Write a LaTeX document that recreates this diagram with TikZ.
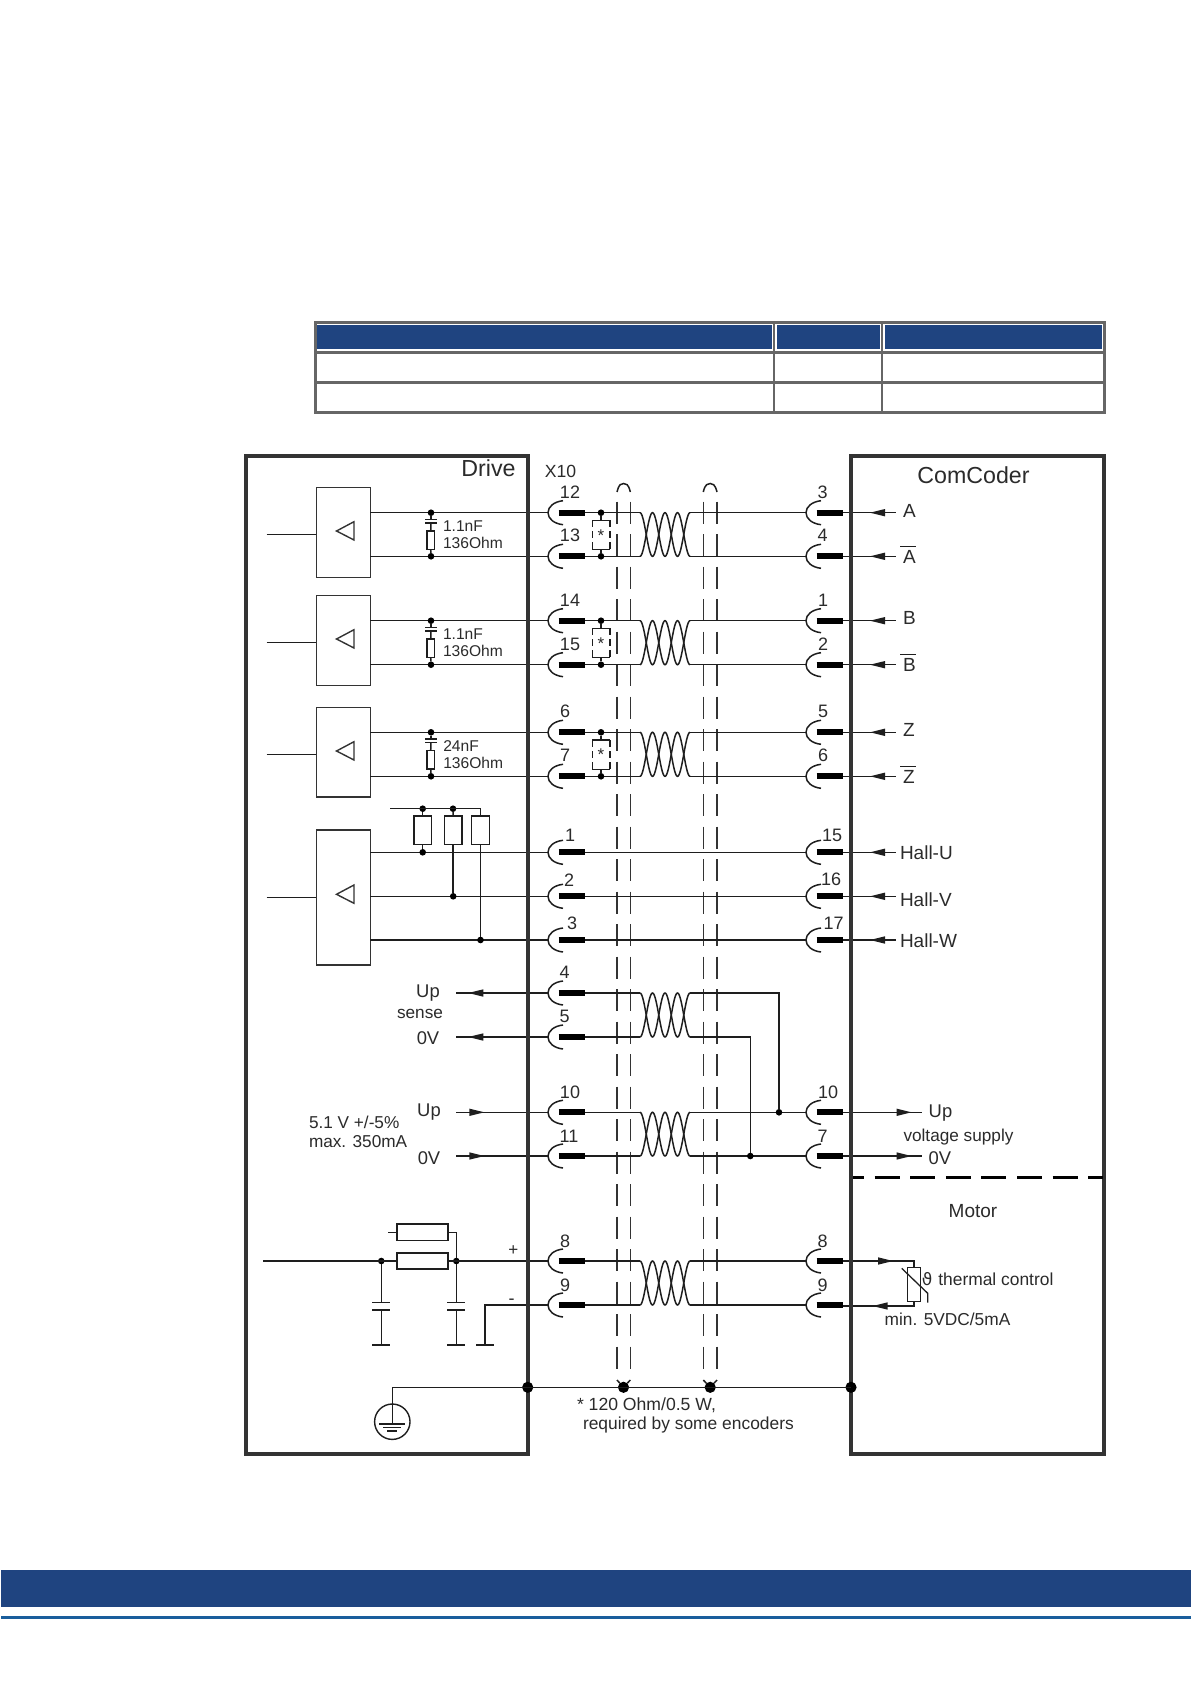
\documentclass[tikz,border=0pt]{standalone}
\usepackage{fontspec}
\setmainfont{Liberation Sans}
\newfontfamily\symfont{DejaVu Sans}
\definecolor{navy}{HTML}{1F4480}
\definecolor{footline}{HTML}{1A5E9C}
\definecolor{tablegrey}{HTML}{666666}
\definecolor{frameink}{HTML}{333333}
\definecolor{ink}{HTML}{1E1E1E}
\definecolor{txt}{HTML}{2B2B2B}
\tikzset{
  wire/.style={draw=ink,line width=0.75pt},
  thin wire/.style={draw=ink,line width=0.65pt},
  barpin/.style={draw=black,line width=3pt},
  shield/.style={draw=frameink,line width=0.75pt,dash pattern=on 11pt off 5.25pt},
  frame/.style={draw=frameink,line width=2pt,inner sep=0pt,outer sep=0pt},
  drv/.style={draw=frameink,line width=0.7pt,inner sep=0pt,outer sep=0pt,minimum width=27pt},
  rbox/.style={draw=ink,line width=0.7pt,inner sep=0pt,outer sep=0pt},
  jdot/.style={circle,fill=black,inner sep=0pt,outer sep=0pt,minimum size=3.3pt},
  bigdot/.style={circle,fill=black,inner sep=0pt,outer sep=0pt,minimum size=5.6pt},
}
\newcommand{\lab}[6]{\node[inner sep=0pt,outer sep=0pt,text=txt,anchor=#2,font=\fontsize{#5}{#5}\selectfont,text height={#5*0.716pt},text depth=0pt] (#1) at (#3,#4) {#6};}
\newcommand{\cshape}[2]{\draw[wire] (#1+15,#2-12) .. controls (#1+6,#2-11) and (#1,#2-6) .. (#1,#2) .. controls (#1,#2+6) and (#1+6,#2+11) .. (#1+15,#2+12);}
% pin: number, row, label x, label lift
\newcommand{\pinL}[4]{%
  \coordinate (L#1-w) at (548,#2); \coordinate (L#1-e) at (585,#2);
  \cshape{548}{#2}
  \draw[barpin] (558.7,#2) -- (L#1-e);
  \lab{Ln#1}{center}{#3}{#2-#4}{9}{#1}}
\newcommand{\pinR}[4]{%
  \coordinate (R#1-w) at (806,#2); \coordinate (R#1-e) at (843,#2);
  \cshape{806}{#2}
  \draw[barpin] (816.7,#2) -- (R#1-e);
  \lab{Rn#1}{center}{#3}{#2-#4}{9}{#1}}
\newcommand{\twist}[3]{%
  \coordinate (#1-ta) at (640,#2); \coordinate (#1-tb) at (690,#2);
  \coordinate (#1-ba) at (640,#3); \coordinate (#1-bb) at (690,#3);
  \draw[wire] plot[domain=0:720,samples=73] ({640+\x/14.4},{#2/2+#3/2-(#3-#2)/2*cos(\x)});
  \draw[wire] plot[domain=0:720,samples=73] ({640+\x/14.4},{#2/2+#3/2+(#3-#2)/2*cos(\x)});}
\newcommand{\tri}[1]{\draw[draw=frameink,line width=0.7pt,line join=miter] (336.5,#1) -- (354,#1-9.3) -- (354,#1+9) -- cycle;}
\newcommand{\headL}[2]{\fill[ink] (#1,#2) -- (#1+15,#2-3.7) -- (#1+15,#2+3.7) -- cycle;}
\newcommand{\headR}[2]{\fill[ink] (#1,#2) -- (#1-15,#2-3.7) -- (#1-15,#2+3.7) -- cycle;}
% filter: name, row1, row2
\newcommand{\rc}[3]{%
  \node[jdot] (#1-t) at (431,#2) {};
  \node[jdot] (#1-b) at (431,#3) {};
  \node[rbox,minimum width=3.7pt,minimum height=9.2pt] (#1-r) at (430.7,#2+27.5) {};
  \coordinate (#1-c1) at (431,#2+6.7);
  \coordinate (#1-c2) at (431,#2+10.4);
  \draw[wire] (#1-t) -- (#1-c1);
  \draw[wire] (#1-c2) -- (#1-r.north);
  \draw[wire] (#1-r.south) -- (#1-b);
  \draw[wire] (425,#2+6.7) -- (437,#2+6.7);
  \draw[wire] (425,#2+10.4) -- (437,#2+10.4);}
% optional terminator: name, row1, row2
\newcommand{\term}[3]{%
  \node[jdot] (#1-t) at (601,#2) {};
  \node[jdot] (#1-b) at (601,#3) {};
  \draw[wire] (#1-t) -- (601,#2+7.7);
  \draw[wire] (#1-b) -- (601,#3-7);
  \draw[wire] (592.3,#2+7.7) -- (610,#2+7.7);
  \draw[wire] (592.3,#3-7) -- (610,#3-7);
  \draw[wire,dash pattern=on 3.5pt off 2pt] (592.3,#2+7.7) -- (592.3,#3-7);
  \draw[wire,dash pattern=on 3.5pt off 2pt] (610,#2+7.7) -- (610,#3-7);
  \lab{#1-s}{center}{601}{#2+22.5}{8.5}{*}}
\begin{document}
\begin{tikzpicture}[x=0.5pt,y=-0.5pt]
\useasboundingbox (0,0) rectangle (1191,1684);
\fill[white] (0,0) rectangle (1191,1684);

% ---- table
\fill[navy] (317,324.7) rectangle (772.3,349.3);
\fill[navy] (776.5,324.7) rectangle (879.5,349.3);
\fill[navy] (884.7,324.7) rectangle (1101.8,349.3);
\draw[draw=tablegrey,line width=1.5pt] (315.5,322.5) rectangle (1104.2,412.5);
\draw[draw=tablegrey,line width=1.6pt] (315.5,352.3) -- (1104.2,352.3);
\draw[draw=tablegrey,line width=1.5pt] (315.5,382.3) -- (1104.2,382.3);
\draw[draw=tablegrey,line width=1pt] (773.8,322.5) -- (773.8,412.5);
\draw[draw=tablegrey,line width=1pt] (881.8,322.5) -- (881.8,412.5);

% ---- footer
\fill[navy] (1.3,1570) rectangle (1191,1606.7);
\fill[footline] (1.3,1616) rectangle (1191,1619.3);

% ---- shields
\coordinate (S1t) at (617,501.7); \coordinate (S1b) at (617,1371.7);
\coordinate (S2t) at (630.3,501.7); \coordinate (S2b) at (630.3,1371.7);
\coordinate (S3t) at (703.3,501.7); \coordinate (S3b) at (703.3,1371.7);
\coordinate (S4t) at (717,501.7); \coordinate (S4b) at (717,1371.7);
\draw[shield] (S1t) -- (S1b);
\draw[shield] (S2t) -- (S2b);
\draw[shield] (S3t) -- (S3b);
\draw[shield] (S4t) -- (S4b);
\draw[wire] (617,492) .. controls (619,484) and (621,483.5) .. (623.6,483.5) .. controls (626,483.5) and (628.5,484) .. (630.3,492);
\draw[wire] (703.3,492) .. controls (705,484) and (708,483.5) .. (710.2,483.5) .. controls (712.5,483.5) and (715,484) .. (717,492);

% ---- driver boxes
\node[drv,minimum height=45pt] (d1) at (343.3,532.7) {};
\node[drv,minimum height=45pt] (d2) at (343.3,640.7) {};
\node[drv,minimum height=44.7pt] (d3) at (343.3,752.4) {};
\node[drv,minimum height=67.5pt] (d4) at (343.3,897.5) {};
\tri{531} \tri{639} \tri{751} \tri{894.3}
\coordinate (in1) at (266.7,534.3);
\coordinate (in2) at (266.7,642.3);
\coordinate (in3) at (266.7,754.3);
\coordinate (in4) at (266.7,897.7);
\draw[wire] (in1) -- (d1.west |- in1);
\draw[wire] (in2) -- (d2.west |- in2);
\draw[wire] (in3) -- (d3.west |- in3);
\draw[wire] (in4) -- (d4.west |- in4);

% ---- pins left
\pinL{12}{512.7}{570}{21} \pinL{13}{556.3}{570}{21}
\pinL{14}{620.7}{570}{21} \pinL{15}{664.7}{570}{21}
\pinL{6}{732.3}{565}{21} \pinL{7}{776.3}{565}{21}
\pinL{1}{852.3}{570}{17} \pinL{2}{896.3}{569}{16.5} \pinL{3}{940}{572}{16.5}
\pinL{4}{993}{564.5}{20.5} \pinL{5}{1037}{564.5}{20.5}
\pinL{10}{1112.3}{570}{20} \pinL{11}{1156}{569}{20}
\pinL{8}{1261}{565}{20} \pinL{9}{1305}{565}{20}
% ---- pins right
\pinR{3}{512.7}{822.7}{21} \pinR{4}{556.3}{822.7}{21}
\pinR{1}{620.7}{823}{21} \pinR{2}{664.7}{823}{21}
\pinR{5}{732.3}{823}{21} \pinR{6}{776.3}{823}{21}
\pinR{15}{852.3}{832}{17} \pinR{16}{896.3}{831}{17} \pinR{17}{940}{833.5}{17}
\pinR{10}{1112.3}{828}{20} \pinR{7}{1156}{822.7}{20}
\pinR{8}{1261}{822.7}{20} \pinR{9}{1305}{822.7}{20}

% ---- twisted pairs
\twist{Ta}{512.7}{556.3}
\twist{Tb}{620.7}{664.7}
\twist{Tc}{732.3}{776.3}
\twist{Td}{993}{1037}
\twist{Te}{1112.3}{1156}
\twist{Tf}{1261}{1305}

% ---- wires drive to connector
\draw[wire] (d1.east |- L12-w) -- (L12-w);
\draw[wire] (d1.east |- L13-w) -- (L13-w);
\draw[wire] (d2.east |- L14-w) -- (L14-w);
\draw[wire] (d2.east |- L15-w) -- (L15-w);
\draw[wire] (d3.east |- L6-w) -- (L6-w);
\draw[wire] (d3.east |- L7-w) -- (L7-w);
\draw[wire] (d4.east |- L1-w) -- (L1-w);
\draw[wire] (d4.east |- L2-w) -- (L2-w);
\draw[wire] (d4.east |- L3-w) -- (L3-w);

% ---- wires through the cable
\draw[wire] (L12-e) -- (Ta-ta); \draw[wire] (Ta-tb) -- (R3-w);
\draw[wire] (L13-e) -- (Ta-ba); \draw[wire] (Ta-bb) -- (R4-w);
\draw[wire] (L14-e) -- (Tb-ta); \draw[wire] (Tb-tb) -- (R1-w);
\draw[wire] (L15-e) -- (Tb-ba); \draw[wire] (Tb-bb) -- (R2-w);
\draw[wire] (L6-e) -- (Tc-ta); \draw[wire] (Tc-tb) -- (R5-w);
\draw[wire] (L7-e) -- (Tc-ba); \draw[wire] (Tc-bb) -- (R6-w);
\draw[wire] (L1-e) -- (R15-w);
\draw[wire] (L2-e) -- (R16-w);
\draw[wire] (L3-e) -- (R17-w);
\draw[wire] (L4-e) -- (Td-ta);
\draw[wire] (L5-e) -- (Td-ba);
\draw[wire] (L10-e) -- (Te-ta); \draw[wire] (Te-tb) -- (R10-w);
\draw[wire] (L11-e) -- (Te-ba); \draw[wire] (Te-bb) -- (R7-w);
\draw[wire] (L8-e) -- (Tf-ta); \draw[wire] (Tf-tb) -- (R8-w);
\draw[wire] (L9-e) -- (Tf-ba); \draw[wire] (Tf-bb) -- (R9-w);

% ---- sense returns
\node[jdot] (jUp) at (779,1112.3) {};
\node[jdot] (j0V) at (750.3,1156) {};
\draw[wire] (Td-tb) -| (jUp);
\draw[wire] (Td-bb) -| (j0V);

% ---- filters and terminators
\rc{f1}{512.7}{556.3} \lab{c1}{west}{443}{526}{7.8}{1.1nF} \lab{r1}{west}{443}{543.3}{7.8}{136Ohm}
\rc{f2}{620.7}{664.7} \lab{c2}{west}{443}{634}{7.8}{1.1nF} \lab{r2}{west}{443}{651.3}{7.8}{136Ohm}
\rc{f3}{732.3}{776.3} \lab{c3}{west}{443.3}{745.7}{7.8}{24nF} \lab{r3}{west}{443.3}{762.7}{7.8}{136Ohm}
\term{t1}{512.7}{556.3}
\term{t2}{620.7}{664.7}
\term{t3}{732.3}{776.3}

% ---- hall pull-ups
\coordinate (hs) at (390,808.7);
\node[jdot] (h1t) at (422.7,808.7) {};
\node[jdot] (h2t) at (453,808.7) {};
\coordinate (h3t) at (480.5,808.7);
\node[rbox,minimum width=8.7pt,minimum height=14.3pt] (h1) at (422.7,830.4) {};
\node[rbox,minimum width=8.8pt,minimum height=14.3pt] (h2) at (453.2,830.4) {};
\node[rbox,minimum width=8.8pt,minimum height=14.3pt] (h3) at (480.5,830.4) {};
\node[jdot] (h1b) at (422.7,852.3) {};
\node[jdot] (h2b) at (453.2,896.3) {};
\node[jdot] (h3b) at (480.5,940) {};
\draw[wire] (hs) -- (h3t) -- (h3.north);
\draw[wire] (h1t) -- (h1.north);
\draw[wire] (h2t) -- (h2.north);
\draw[wire] (h1.south) -- (h1b);
\draw[wire] (h2.south) -- (h2b);
\draw[wire] (h3.south) -- (h3b);

% ---- sense / supply on the drive side
\coordinate (upS) at (456,993);
\coordinate (ovS) at (456,1037);
\coordinate (upI) at (456,1112.3);
\coordinate (ovI) at (456,1156);
\draw[wire] (upS) -- (L4-w); \headL{468.3}{993}
\draw[wire] (ovS) -- (L5-w); \headL{468.3}{1037}
\draw[wire] (upI) -- (L10-w); \headR{484.3}{1112.3}
\draw[wire] (ovI) -- (L11-w); \headR{484.3}{1156}
\lab{tUpS}{center}{428}{991}{9.2}{Up}
\lab{tSense}{center}{420}{1012}{8.6}{sense}
\lab{tOvS}{center}{428}{1038}{9.2}{0V}
\lab{tUpI}{center}{429}{1109.5}{9.2}{Up}
\lab{tOvI}{center}{429}{1157.7}{9.2}{0V}
\lab{tV}{west}{309}{1122.3}{8.6}{5.1 V +/-5\%}
\lab{tMax}{west}{309}{1141.7}{8.6}{max. 350mA}

% ---- encoder signals
\coordinate (eA) at (896,512.7);
\coordinate (eAn) at (896,556.3);
\coordinate (eB) at (896,620.7);
\coordinate (eBn) at (896,664.7);
\coordinate (eZ) at (896,732.3);
\coordinate (eZn) at (896,776.3);
\coordinate (eU) at (896,852.3);
\coordinate (eV) at (896,896.3);
\coordinate (eW) at (896,940);
\draw[wire] (R3-e) -- (eA); \headL{870}{512.7}
\draw[wire] (R4-e) -- (eAn); \headL{870}{556.3}
\draw[wire] (R1-e) -- (eB); \headL{870}{620.7}
\draw[wire] (R2-e) -- (eBn); \headL{870}{664.7}
\draw[wire] (R5-e) -- (eZ); \headL{870}{732.3}
\draw[wire] (R6-e) -- (eZn); \headL{870}{776.3}
\draw[wire] (R15-e) -- (eU); \headL{870}{852.3}
\draw[wire] (R16-e) -- (eV); \headL{870}{896.3}
\draw[wire] (R17-e) -- (eW); \headL{870}{940}
\lab{tA}{center}{909.5}{510.7}{9.5}{A}
\lab{tAn}{center}{909.5}{557}{9.5}{A}
\lab{tB}{center}{909.5}{618}{9.5}{B}
\lab{tBn}{center}{909.5}{665}{9.5}{B}
\lab{tZ}{center}{909}{730}{9.5}{Z}
\lab{tZn}{center}{909}{777}{9.5}{Z}
\draw[wire] (900,546.7) -- (916,546.7);
\draw[wire] (900,654.5) -- (916,654.5);
\draw[wire] (900,766.5) -- (916,766.5);
\lab{tHU}{west}{900}{853}{9.5}{Hall-U}
\lab{tHV}{west}{900}{900}{9.5}{Hall-V}
\lab{tHW}{west}{900}{941}{9.5}{Hall-W}

% ---- supply on the motor side
\coordinate (oUp) at (921.7,1112.3);
\coordinate (oOv) at (921.7,1156);
\draw[wire] (R10-e) -- (oUp); \headR{911.5}{1112.3}
\draw[wire] (R7-e) -- (oOv); \headR{911.5}{1156}
\lab{tUpO}{west}{928.7}{1110.5}{9.2}{Up}
\lab{tOvO}{west}{928.7}{1157.5}{9.2}{0V}
\lab{tVs}{west}{903.5}{1135.5}{8.6}{voltage supply}

% ---- thermal contact
\node[rbox,minimum width=6.3pt,minimum height=17pt] (ptc) at (914,1284.7) {};
\coordinate (pIn) at (843,1306);
\draw[wire] (R8-e) -| (ptc.north); \headR{893}{1261}
\draw[wire] (pIn) -| (ptc.south); \headL{872.7}{1306}
\draw[thin wire] (901.7,1268.3) -- (927.7,1293.3) -- (927.7,1302.7);
\lab{tTheta}{center}{927}{1279}{8.5}{\symfont ϑ}
\lab{tTh}{west}{938.3}{1279}{8.7}{thermal control}
\lab{tMin}{west}{884.7}{1319}{8.65}{min. 5VDC/5mA}
\lab{tMotor}{center}{973}{1210.7}{9.5}{Motor}

% ---- supply network in the drive
\node[rbox,line width=0.85pt,minimum width=25.8pt,minimum height=8.3pt] (rr1) at (422.5,1232.3) {};
\node[rbox,line width=0.85pt,minimum width=25.8pt,minimum height=8pt] (rr2) at (422.5,1261.3) {};
\coordinate (bIn) at (263.3,1261);
\coordinate (bStub) at (388,1232.3);
\node[jdot] (b1) at (381.3,1261) {};
\node[jdot] (b2) at (456.3,1261) {};
\draw[wire] (bIn) -- (rr2.west |- bIn);
\draw[wire] (rr2.east |- b2) -- (L8-w);
\draw[wire] (bStub) -- (rr1.west);
\draw[wire] (rr1.east) -| (b2);
\coordinate (k1t) at (381.3,1302.7); \coordinate (k1m) at (381.3,1310); \coordinate (k1b) at (381.3,1345);
\coordinate (k2t) at (456.3,1302.7); \coordinate (k2m) at (456.3,1310); \coordinate (k2b) at (456.3,1345);
\coordinate (k3b) at (485,1345);
\draw[wire] (b1) -- (k1t); \draw[wire] (k1m) -- (k1b);
\draw[wire] (b2) -- (k2t); \draw[wire] (k2m) -- (k2b);
\draw[wire] (L9-w) -| (k3b);
\draw[wire] (372.3,1302.7) -- (390.3,1302.7);
\draw[wire] (372.3,1310) -- (390.3,1310);
\draw[wire] (372.3,1345) -- (390.3,1345);
\draw[wire] (447.3,1302.7) -- (465.3,1302.7);
\draw[wire] (447.3,1310) -- (465.3,1310);
\draw[wire] (447.3,1345) -- (465.3,1345);
\draw[wire] (476,1345) -- (494,1345);
\lab{tPlus}{center}{513.3}{1249.3}{8.5}{+}
\lab{tMinus}{center}{511.7}{1297.7}{9}{-}

% ---- outer frames
\node[frame,minimum width=140.85pt,minimum height=499pt] (drive) at (386.85,954.5) {};
\node[frame,minimum width=126.5pt,minimum height=499pt] (comcoder) at (977.5,954.5) {};
\lab{tDrive}{center}{488.5}{468}{11.6}{Drive}
\lab{tCom}{center}{973.5}{475}{11.6}{ComCoder}
\lab{tX10}{center}{560.5}{471}{8.8}{X10}
\coordinate (mL) at (853,1177.3);
\coordinate (mR) at (1103,1177.3);
\draw[draw=black,line width=1.5pt,dash pattern=on 12.5pt off 5.3pt,dash phase=7pt] (mL) -- (mR);

% ---- earth
\coordinate (gC) at (392.3,1387.3);
\coordinate (gE) at (851,1387.3);
\node[bigdot] (gD) at (527.7,1387.3) {};
\node[bigdot] (gK) at (851,1387.3) {};
\node[bigdot] (gSa) at (623.5,1387.3) {};
\node[bigdot] (gSb) at (710.2,1387.3) {};
\draw[wire] (S1b |- 0,1380) -- (gSa);
\draw[wire] (S2b |- 0,1380) -- (gSa);
\draw[wire] (S3b |- 0,1380) -- (gSb);
\draw[wire] (S4b |- 0,1380) -- (gSb);
\node[circle,draw=ink,line width=0.7pt,inner sep=0pt,outer sep=0pt,minimum size=17.7pt] (earth) at (392.3,1421.7) {};
\coordinate (gBar) at (392.3,1424);
\draw[wire] (gBar) -- (gC) -- (gE);
\draw[wire] (379.3,1424) -- (405.3,1424);
\draw[wire] (383.3,1427.5) -- (401.3,1427.5);
\draw[wire] (387.3,1431) -- (397.3,1431);
\lab{tNote}{west}{577}{1404}{8.8}{* 120 Ohm/0.5 W,}
\lab{tReq}{west}{583}{1423}{8.7}{required by some encoders}
\end{tikzpicture}
\end{document}
